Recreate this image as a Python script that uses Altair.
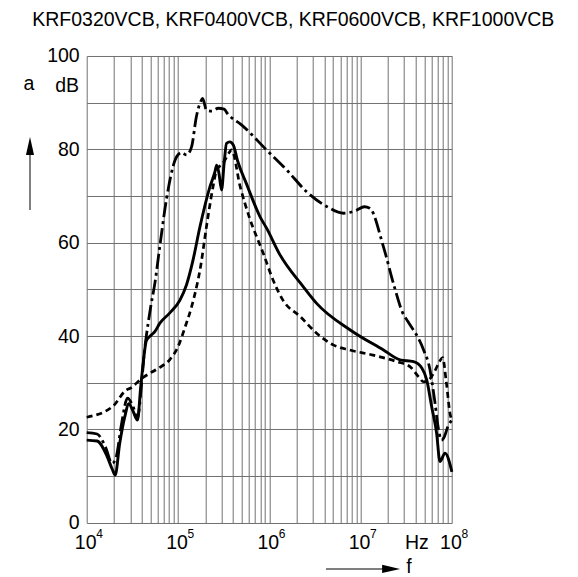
import altair as alt
import pandas as pd

# ---- data ----
title_text = "KRF0320VCB, KRF0400VCB, KRF0600VCB, KRF1000VCB"

solid_f = [1e4, 1.3e4, 1.65e4, 1.9e4, 2.05e4, 2.3e4, 2.6e4, 2.9e4, 3.2e4, 3.6e4, 3.9e4, 4.2e4,
           4.5e4, 5.1e4, 5.6e4, 6.3e4, 8.1e4, 1.05e5, 1.24e5, 1.45e5, 1.74e5, 2.24e5, 2.54e5,
           2.65e5, 2.8e5, 3.0e5, 3.2e5, 3.4e5, 3.7e5, 4.04e5, 4.5e5, 5.6e5, 7.9e5, 9.4e5, 1.3e6,
           2.35e6, 3.3e6, 7.7e6, 1.78e7, 2.7e7, 3.8e7, 4.7e7, 5.3e7, 6.0e7, 6.8e7, 7.4e7, 8.4e7, 1e8]
solid_db = [17.7, 17.5, 14.5, 11.5, 10.2, 17, 22.5, 25.5, 24, 22, 29, 35,
            39, 40.2, 41, 42.7, 44.9, 47.7, 51.0, 56.0, 63.4, 72, 75.2,
            76.6, 75, 71.3, 77, 81.3, 81.6, 80.9, 77.5, 72.7, 65.6, 63, 57.5,
            50.6, 47, 41.3, 37, 34.9, 34.5, 33.1, 30.6, 24.9, 19.2, 13.1, 14.9, 10.9]

dashed_f = [1e4, 1.95e4, 2.7e4, 3e4, 4e4, 4.9e4, 6.1e4, 8.1e4, 1e5, 1.2e5, 1.41e5, 1.6e5, 1.74e5,
            2.05e5, 2.42e5, 2.65e5, 3.1e5, 3.7e5, 3.86e5, 4.8e5, 6.1e5, 8.6e5, 1.1e6, 1.41e6,
            2.2e6, 3.3e6, 5e6, 7.6e6, 1.37e7, 2.5e7, 3.5e7, 4.3e7, 4.9e7, 5.6e7, 6.5e7, 7.3e7,
            7.9e7, 8.7e7, 9.6e7, 1e8]
dashed_db = [22.6, 25.0, 28.4, 28.8, 30.9, 32.0, 33.1, 34.9, 37.7, 42, 46.3, 50.6, 54.1,
             63.4, 72, 75.6, 77, 79.5, 79.9, 72, 65.2, 57.7, 52, 47.7,
             44.1, 40.6, 38.1, 37, 35.9, 34.5, 33.4, 31.3, 30.2, 30.6, 32.5, 34.5,
             35.4, 30, 23.1, 22]

dashdot_f = [1e4, 1.3e4, 1.6e4, 1.9e4, 2.1e4, 2.4e4, 2.8e4, 3.2e4, 3.6e4, 4.0e4, 4.3e4, 4.5e4,
             5.0e4, 5.6e4, 6.3e4, 7.5e4, 9.3e4, 9.8e4, 1.1e5, 1.24e5, 1.41e5, 1.59e5, 1.81e5,
             1.86e5, 2.05e5, 2.34e5, 2.76e5, 3.2e5, 3.5e5, 5e5, 9.3e5, 1.55e6, 2.57e6, 4.3e6,
             6.5e6, 8.9e6, 1.1e7, 1.26e7, 1.78e7, 2.34e7, 2.9e7, 3.3e7, 4.9e7, 5.76e7, 6.0e7,
             6.5e7, 7.0e7, 7.7e7, 8.3e7, 9e7, 1e8]
dashdot_db = [19.3, 19.0, 16.3, 12.7, 14, 21, 26.7, 25, 22.4, 30, 37, 40,
              46, 51.5, 59, 69.5, 77.7, 78.6, 79.3, 78.8, 80.6, 87, 90.6,
              90.9, 88.4, 88.2, 88.8, 88.6, 87.6, 85.2, 79.9, 75.6, 70.9, 67.7,
              66.3, 66.9, 67.7, 67.4, 59.1, 50.6, 44.9, 43.1, 37, 32.7, 30.6,
              26, 21, 17.7, 18.5, 20.5, 22]

decades = [1e4, 1e5, 1e6, 1e7, 1e8]
exponents = ["4", "5", "6", "7", "8"]
y_ticks = list(range(0, 101, 10))
x_grid = [m * 10 ** k for k in range(4, 8) for m in range(1, 10)] + [1e8]

# annotation anchors (data units)
label_row_db = -5.6
exp_row_db = -3.3
unit_db = 92.3
a_x = 2393
a_arrow = [67.0, 80.7]
f_arrow_x = [4.18e6, 2.1e7, 2.16e7]
f_arrow_db = -9.9
hz_x = 3.06e7
f_x = 3.16e7
f_db = -10.7

FONT = "Liberation Sans"

def frame(fs, ds, name):
    return pd.DataFrame({"f": fs, "dB": ds, "s": name})

xs = alt.Scale(type="log", domain=[1e4, 1e8], nice=False)
ys = alt.Scale(domain=[0, 100], nice=False)

x_axis = alt.Axis(values=x_grid, labels=False, ticks=False, tickSize=0, domain=False,
                  grid=True, gridColor="#707070", gridWidth=1, title=None)
y_axis = alt.Axis(values=y_ticks, labelExpr="datum.value % 20 == 0 ? datum.label : ''",
                  ticks=False, tickSize=0, domain=False, grid=True, gridColor="#707070",
                  gridWidth=1, title=None, labelFontSize=19.5, labelFont=FONT,
                  labelColor="black", labelPadding=7.5, labelOverlap=False)


def X(field="f"):
    return alt.X(f"{field}:Q", scale=xs, axis=x_axis)


def Y(field="dB"):
    return alt.Y(f"{field}:Q", scale=ys, axis=y_axis)


solid = alt.Chart(frame(solid_f, solid_db, "solid")).mark_line(
    color="black", strokeWidth=2.9, interpolate="monotone").encode(x=X(), y=Y())

dashed = alt.Chart(frame(dashed_f, dashed_db, "dashed")).mark_line(
    color="black", strokeWidth=2.7, strokeDash=[6, 4], interpolate="monotone").encode(x=X(), y=Y())

dashdot = alt.Chart(frame(dashdot_f, dashdot_db, "dashdot")).mark_line(
    color="black", strokeWidth=2.8, strokeDash=[15, 4, 3, 4], interpolate="monotone").encode(x=X(), y=Y())

tens = alt.Chart(pd.DataFrame({"f": decades, "dB": [label_row_db] * 5, "t": ["10"] * 5})).mark_text(
    font=FONT, fontSize=19.5, align="center", baseline="alphabetic", dx=-1, color="black").encode(
    x=X(), y=Y(), text="t:N")

exps = alt.Chart(pd.DataFrame({"f": decades, "dB": [exp_row_db] * 5, "t": exponents})).mark_text(
    font=FONT, fontSize=12, align="left", baseline="alphabetic", dx=9.5, color="black").encode(
    x=X(), y=Y(), text="t:N")

notes = pd.DataFrame({
    "f": [1e4, a_x, hz_x, f_x],
    "dB": [unit_db, 92.7, label_row_db, f_db],
    "t": ["dB", "a", "Hz", "f"],
    "al": ["right", "center", "left", "left"],
    "dx": [-7.7, -1, 0, 0],
})
note_marks = []
for _, r in notes.iterrows():
    note_marks.append(
        alt.Chart(pd.DataFrame([r])).mark_text(
            font=FONT, fontSize=19.5, align=r["al"], baseline="alphabetic", dx=float(r["dx"]),
            color="black").encode(x=X(), y=Y(), text="t:N"))

a_line = alt.Chart(pd.DataFrame({"f": [a_x], "y1": [a_arrow[0]], "y2": [a_arrow[1]]})).mark_rule(
    color="#555555", strokeWidth=1.5).encode(x=X(), y=Y("y1"), y2="y2:Q")
a_head = alt.Chart(pd.DataFrame({"f": [a_x], "dB": [a_arrow[1]]})).mark_point(
    shape="M0,-1L0.45,1L-0.45,1Z", size=324, filled=True, color="black", opacity=1).encode(
    x=X(), y=Y())

f_line = alt.Chart(pd.DataFrame({"f1": [f_arrow_x[0]], "f2": [f_arrow_x[1]], "dB": [f_arrow_db]})).mark_rule(
    color="#555555", strokeWidth=1.5).encode(x=X("f1"), x2="f2:Q", y=Y())
f_head = alt.Chart(pd.DataFrame({"f": [f_arrow_x[2]], "dB": [f_arrow_db]})).mark_point(
    shape="M1,0L-1,0.45L-1,-0.45Z", size=324, filled=True, color="black", opacity=1).encode(
    x=X(), y=Y())

chart = alt.layer(
    solid, dashed, dashdot, tens, exps, *note_marks, a_line, a_head, f_line, f_head
).properties(
    width=365.2, height=466.7,
    title=alt.TitleParams(text=title_text, fontSize=19.5, font=FONT, fontWeight="normal",
                          anchor="middle", dx=24, offset=0, color="black", baseline="alphabetic"),
    autosize=alt.AutoSizeParams(type="none"),
    padding={"left": 78.7, "top": 48, "right": 118, "bottom": 54},
).configure_view(stroke=None)

chart.save("out.html", embed_options={"renderer": "svg", "actions": False})
